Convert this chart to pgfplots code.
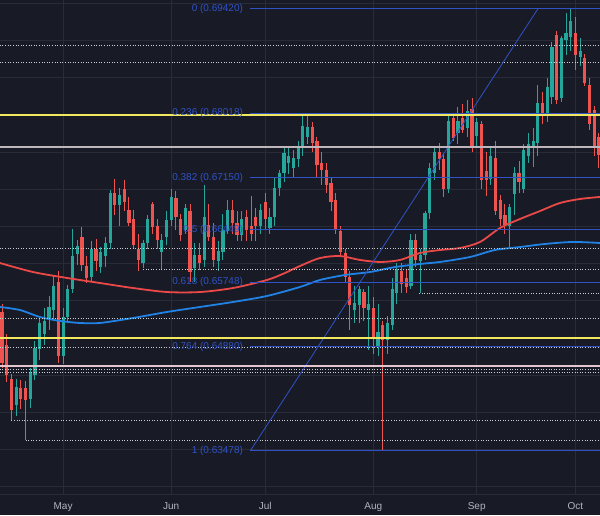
\documentclass[border=0pt]{standalone}
\usepackage{fontspec}
\setmainfont{Liberation Sans}
\usepackage{pgfplots}
\usepackage{pgfplotstable}
\pgfplotsset{compat=1.18}
\definecolor{bgcol}{RGB}{24,27,38}
\definecolor{gridcol}{RGB}{40,44,56}
\definecolor{upcol}{RGB}{38,166,154}
\definecolor{dncol}{RGB}{239,83,80}
\definecolor{mared}{RGB}{235,72,72}
\definecolor{mablue}{RGB}{33,130,230}
\definecolor{fibcol}{RGB}{48,82,196}
\definecolor{yelcol}{RGB}{242,232,96}
\definecolor{graycol}{RGB}{190,182,188}
\definecolor{pinkcol}{RGB}{226,196,206}
\definecolor{dotcol}{RGB}{205,205,212}
\definecolor{labcol}{RGB}{178,181,190}

\pgfplotstableread{
i o h l c
3 0.6410 0.6445 0.6395 0.6434
6 0.6418 0.6460 0.6405 0.6452
7 0.6450 0.6495 0.6443 0.6487
8 0.6485 0.6529 0.6470 0.6520
9 0.6505 0.6540 0.6490 0.6523
10 0.6525 0.6556 0.6510 0.6541
11 0.6537 0.6585 0.6525 0.6570
13 0.6475 0.6540 0.6465 0.6528
14 0.6528 0.6571 0.6520 0.6565
15 0.6565 0.6646 0.6560 0.6610
16 0.6613 0.6632 0.6598 0.6624
19 0.6582 0.6630 0.6575 0.6620
21 0.6595 0.6622 0.6587 0.6615
22 0.6610 0.6635 0.6595 0.6627
23 0.6627 0.6699 0.6620 0.6694
25 0.6678 0.6702 0.6650 0.6692
30 0.6600 0.6632 0.6594 0.6627
31 0.6628 0.6665 0.6620 0.6660
34 0.6615 0.6640 0.6592 0.6632
35 0.6635 0.6670 0.6625 0.6658
36 0.6658 0.6700 0.6650 0.6690
39 0.6645 0.6680 0.6640 0.6675
41 0.6594 0.6628 0.6575 0.6611
43 0.6605 0.6705 0.6595 0.6663
46 0.6603 0.6630 0.6590 0.6616
47 0.6616 0.6667 0.6605 0.6645
48 0.6643 0.6685 0.6640 0.6672
51 0.6638 0.6670 0.6630 0.6660
55 0.6650 0.6680 0.6640 0.6672
57 0.6648 0.6675 0.6640 0.6662
58 0.6662 0.6715 0.6650 0.6702
59 0.6702 0.6725 0.6690 0.6722
60 0.6722 0.6755 0.6710 0.6748
61 0.6735 0.6755 0.6720 0.6745
62 0.6728 0.6752 0.6715 0.6742
63 0.6740 0.6765 0.6730 0.6757
64 0.6755 0.6799 0.6745 0.6785
65 0.6770 0.6798 0.6760 0.6784
75 0.6537 0.6570 0.6520 0.6547
76 0.6544 0.6570 0.6520 0.6566
78 0.6538 0.6570 0.6483 0.6545
80 0.6488 0.6545 0.6476 0.6508
82 0.6497 0.6530 0.6478 0.6520
83 0.6517 0.6580 0.6510 0.6565
84 0.6560 0.6600 0.6545 0.6592
87 0.6570 0.6640 0.6565 0.6632
89 0.6603 0.6620 0.6560 0.6612
90 0.6612 0.6670 0.6605 0.6668
91 0.6668 0.6735 0.6660 0.6728
92 0.6722 0.6758 0.6712 0.6750
95 0.6700 0.6798 0.6695 0.6792
97 0.6775 0.6810 0.6760 0.6792
99 0.6782 0.6820 0.6770 0.6805
101 0.6772 0.6795 0.6755 0.6790
104 0.6713 0.6755 0.6705 0.6745
108 0.6650 0.6680 0.6622 0.6676
109 0.6694 0.6730 0.6665 0.6722
111 0.6700 0.6760 0.6695 0.6752
112 0.6745 0.6775 0.6735 0.6760
113 0.6756 0.6782 0.6730 0.6764
114 0.6762 0.6840 0.6745 0.6816
116 0.6802 0.6850 0.6790 0.6837
117 0.6824 0.6898 0.6815 0.6891
119 0.6822 0.6906 0.6817 0.6903
120 0.6900 0.6937 0.6880 0.6910
121 0.6905 0.6942 0.6885 0.6926
123 0.6878 0.6903 0.6865 0.6886
}\upt

\pgfplotstableread{
i o h l c
0 0.6535 0.6546 0.6460 0.6466
1 0.6490 0.6505 0.6440 0.6450
2 0.6445 0.6452 0.6389 0.6403
4 0.6432 0.6443 0.6404 0.6418
5 0.6432 0.6442 0.6362 0.6416
12 0.6575 0.6590 0.6466 0.6475
17 0.6635 0.6649 0.6590 0.6598
18 0.6597 0.6610 0.6573 0.6580
20 0.6620 0.6633 0.6590 0.6603
24 0.6694 0.6714 0.6665 0.6678
26 0.6700 0.6712 0.6670 0.6683
27 0.6672 0.6690 0.6650 0.6655
28 0.6660 0.6672 0.6620 0.6625
29 0.6620 0.6640 0.6590 0.6604
32 0.6680 0.6682 0.6640 0.6649
33 0.6650 0.6660 0.6620 0.6632
37 0.6688 0.6697 0.6645 0.6662
38 0.6660 0.6667 0.6630 0.6638
40 0.6670 0.6680 0.6575 0.6588
42 0.6611 0.6627 0.6591 0.6600
44 0.6652 0.6680 0.6630 0.6635
45 0.6635 0.6655 0.6595 0.6605
49 0.6672 0.6685 0.6640 0.6655
50 0.6655 0.6670 0.6630 0.6638
52 0.6663 0.6672 0.6630 0.6645
53 0.6650 0.6690 0.6630 0.6640
54 0.6663 0.6675 0.6630 0.6650
56 0.6682 0.6695 0.6645 0.6660
66 0.6784 0.6790 0.6750 0.6762
67 0.6765 0.6770 0.6715 0.6732
68 0.6735 0.6750 0.6705 0.6725
69 0.6726 0.6735 0.6695 0.6705
70 0.6708 0.6715 0.6670 0.6683
71 0.6685 0.6695 0.6640 0.6645
72 0.6643 0.6650 0.6610 0.6615
73 0.6614 0.6620 0.6575 0.6582
74 0.6582 0.6590 0.6510 0.6544
77 0.6562 0.6566 0.6522 0.6540
79 0.6540 0.6555 0.6478 0.6501
81 0.6517 0.6523 0.6348 0.6497
85 0.6590 0.6600 0.6560 0.6573
86 0.6580 0.6592 0.6560 0.6568
88 0.6632 0.6640 0.6595 0.6605
93 0.6750 0.6762 0.6725 0.6740
94 0.6740 0.6748 0.6690 0.6700
96 0.6795 0.6800 0.6765 0.6768
98 0.6795 0.6815 0.6775 0.6780
100 0.6808 0.6823 0.6750 0.6757
102 0.6788 0.6792 0.6700 0.6712
103 0.6724 0.6750 0.6690 0.6712
105 0.6742 0.6765 0.6665 0.6670
106 0.6685 0.6692 0.6650 0.6660
107 0.6665 0.6680 0.6640 0.6652
110 0.6722 0.6738 0.6695 0.6710
115 0.6816 0.6830 0.6788 0.6802
118 0.6907 0.6912 0.6815 0.6820
122 0.6910 0.6932 0.6860 0.6880
124 0.6876 0.6882 0.6838 0.6842
125 0.6840 0.6850 0.6780 0.6788
126 0.6806 0.6812 0.6745 0.6755
127 0.6770 0.6775 0.6728 0.6746
}\dnt

\begin{document}
\begin{tikzpicture}
\fill[bgcol] (0,0) rectangle (600pt,515pt);
\begin{axis}[
  at={(0,21pt)}, anchor=south west,
  scale only axis, width=600pt, height=494pt,
  xmin=-0.4255, xmax=127.23,
  ymin=0.628997, ymax=0.69541,
  axis background/.style={fill=bgcol},
  axis line style={draw=none},
  tick style={draw=none},
  scaled y ticks=false, scaled x ticks=false,
  xtick={13,36,56,79,101,122},
  xticklabels={May,Jun,Jul,Aug,Sep,Oct},
  xticklabel style={anchor=base, yshift=-15pt, text=labcol, font=\fontsize{10}{12}\selectfont},
  ytick={0.630,0.635,0.640,0.645,0.650,0.655,0.660,0.665,0.670,0.675,0.680,0.685,0.690,0.695},
  yticklabels={},
  xmajorgrids, ymajorgrids,
  grid style={gridcol, line width=0.6pt},
  clip=true,
  candle/.style={draw=none, fill=none, mark=none, forget plot},
  after end axis/.code={\draw[gridcol, line width=0.8pt] (rel axis cs:0,0) -- (rel axis cs:1,0);},
]
% candles: wicks
\addplot[candle, error bars/.cd, y dir=both, y explicit, error mark=none,
  error bar style={draw=upcol, line width=1pt}]
  table[x=i, y expr=(\thisrow{h}+\thisrow{l})/2, y error expr=(\thisrow{h}-\thisrow{l})/2] {\upt};
\addplot[candle, error bars/.cd, y dir=both, y explicit, error mark=none,
  error bar style={draw=dncol, line width=1pt}]
  table[x=i, y expr=(\thisrow{h}+\thisrow{l})/2, y error expr=(\thisrow{h}-\thisrow{l})/2] {\dnt};
% candles: bodies
\addplot[candle, error bars/.cd, y dir=both, y explicit, error mark=none,
  error bar style={draw=upcol, line width=3.2pt}]
  table[x=i, y expr=(\thisrow{o}+\thisrow{c})/2, y error expr=abs(\thisrow{c}-\thisrow{o})/2] {\upt};
\addplot[candle, error bars/.cd, y dir=both, y explicit, error mark=none,
  error bar style={draw=dncol, line width=3.2pt}]
  table[x=i, y expr=(\thisrow{o}+\thisrow{c})/2, y error expr=abs(\thisrow{c}-\thisrow{o})/2] {\dnt};

% moving averages
\addplot[mared, line width=1.8pt, smooth, mark=none] coordinates {
(-0.43,0.66005) (6.6,0.65884) (13.83,0.65804) (20.85,0.65736) (27.87,0.65669) (35.1,0.65615)
(42.13,0.65615) (49.15,0.65669) (56.38,0.65777) (60.21,0.65871) (63.4,0.65965) (67.66,0.66072)
(71.91,0.66099) (76.17,0.66046) (80.43,0.66019) (84.68,0.66046) (88.94,0.66140) (93.19,0.66180)
(97.45,0.66207) (101.7,0.66288) (105.96,0.66476) (110.21,0.66597) (114.47,0.66704) (118.72,0.66812)
(122.98,0.66866) (127.23,0.66893)};
\addplot[mablue, line width=1.8pt, smooth, mark=none] coordinates {
(-0.43,0.65414) (3.83,0.65373) (8.09,0.65279) (12.34,0.65226) (16.6,0.65199) (20.85,0.65199)
(27.87,0.65266) (35.11,0.65347) (42.13,0.65414) (49.15,0.65481) (56.38,0.65562) (63.4,0.65683)
(67.66,0.65777) (72.98,0.65844) (78.3,0.65884) (83.62,0.65951) (88.94,0.65992) (93.19,0.66019)
(99.57,0.66086) (104.89,0.66180) (110.21,0.66220) (115.53,0.66261) (121.49,0.66288) (127.23,0.66274)};

% dotted levels
\pgfplotsset{dotl/.style={dotcol, line width=0.9pt, dash pattern=on 1pt off 1.6pt, mark=none}}
\addplot[dotl] coordinates {(-1,0.68936) (128,0.68936)};
\addplot[dotl] coordinates {(-1,0.68707) (128,0.68707)};
\addplot[dotl] coordinates {(-1,0.66207) (128,0.66207)};
\addplot[dotl] coordinates {(30,0.65925) (128,0.65925)};
\addplot[dotl] coordinates {(88.7,0.65602) (128,0.65602)};
\addplot[dotl] coordinates {(-1,0.65266) (128,0.65266)};
\addplot[dotl] coordinates {(-1,0.64876) (128,0.64876)};
\addplot[dotl] coordinates {(-1,0.64580) (128,0.64580)};
\addplot[dotl] coordinates {(-1,0.64540) (128,0.64540)};
\addplot[dotl] coordinates {(2,0.63895) (128,0.63895)};
\addplot[dotl] coordinates {(5,0.63626) (128,0.63626)};

% fibonacci retracement
\pgfplotsset{fibl/.style={fibcol, line width=1pt, mark=none}}
\addplot[fibl] coordinates {(52.8,0.69420) (128,0.69420)};
\addplot[fibl] coordinates {(52.8,0.68018) (128,0.68018)};
\addplot[fibl] coordinates {(52.8,0.67150) (128,0.67150)};
\addplot[fibl] coordinates {(52.8,0.66449) (128,0.66449)};
\addplot[fibl] coordinates {(52.8,0.65748) (128,0.65748)};
\addplot[fibl] coordinates {(52.8,0.64880) (128,0.64880)};
\addplot[fibl] coordinates {(52.8,0.63478) (128,0.63478)};
\addplot[fibcol, line width=0.8pt, mark=none] coordinates {(52.8,0.63478) (114.0,0.69420)};

% solid horizontal levels
\addplot[graycol, line width=1.6pt, mark=none] coordinates {(-1,0.67565) (128,0.67565)};
\addplot[pinkcol, line width=1.4pt, mark=none] coordinates {(-1,0.64620) (128,0.64620)};
\addplot[yelcol, line width=2.2pt, mark=none] coordinates {(-1,0.68000) (128,0.68000)};
\addplot[yelcol, line width=2.2pt, mark=none] coordinates {(-1,0.65000) (128,0.65000)};

% fib labels
\begin{scope}[every node/.style={anchor=east, text=fibcol, font=\fontsize{10}{12}\selectfont, inner sep=0pt}]
\node at (axis cs:51.3,0.69420) {0 (0.69420)};
\node at (axis cs:51.3,0.68018) {0.236 (0.68018)};
\node at (axis cs:51.3,0.67150) {0.382 (0.67150)};
\node at (axis cs:51.3,0.66449) {0.5 (0.66449)};
\node at (axis cs:51.3,0.65748) {0.618 (0.65748)};
\node at (axis cs:51.3,0.64880) {0.764 (0.64880)};
\node at (axis cs:51.3,0.63478) {1 (0.63478)};
\end{scope}
\end{axis}
\pgfresetboundingbox
\path[use as bounding box] (0,0) rectangle (600pt,515pt);
\end{tikzpicture}
\end{document}
